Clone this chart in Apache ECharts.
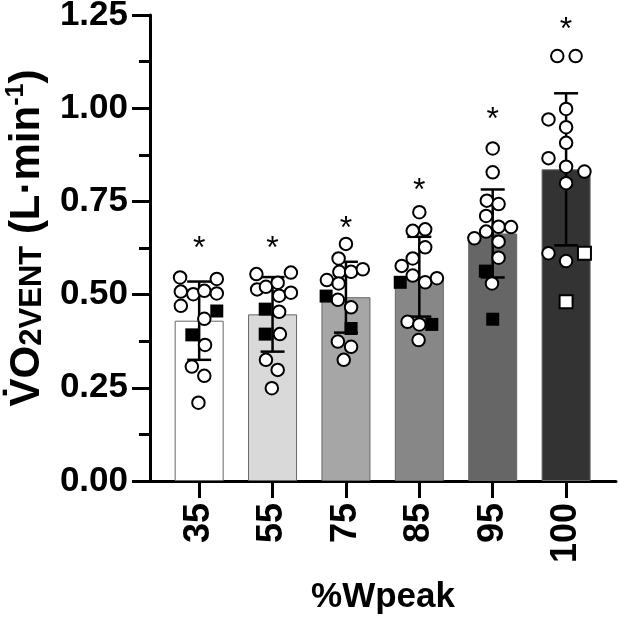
<!DOCTYPE html>
<html><head><meta charset="utf-8">
<script src="https://cdn.jsdelivr.net/npm/echarts@6/dist/echarts.min.js"></script>
<style>html,body{margin:0;padding:0;background:#fff}#c{width:621px;height:620px}</style>
</head><body><div id="c"></div>
<script>
// ---- data ----
const categories = ['35', '55', '75', '85', '95', '100'];
const means = [0.430, 0.447, 0.493, 0.548, 0.664, 0.836];
const sds = [0.105, 0.100, 0.095, 0.107, 0.118, 0.204];
const sigY = [0.64, 0.64, 0.695, 0.795, 0.988, 1.228];

// individual participants (circles) : values and horizontal jitter (category units)
const circleY = [
  [0.546,0.542,0.508,0.501,0.510,0.503,0.470,0.435,0.365,0.307,0.282,0.210],
  [0.555,0.559,0.514,0.521,0.532,0.497,0.505,0.454,0.394,0.325,0.298,0.249],
  [0.636,0.597,0.561,0.561,0.568,0.539,0.530,0.486,0.466,0.374,0.360,0.325],
  [0.721,0.671,0.675,0.627,0.597,0.577,0.551,0.533,0.544,0.427,0.420,0.378],
  [0.892,0.828,0.752,0.743,0.711,0.682,0.669,0.681,0.651,0.642,0.599,0.530],
  [1.140,1.140,0.998,0.970,0.949,0.907,0.866,0.843,0.830,0.799,0.611,0.590]
];
const circleDx = [
  [-0.26,0.24,-0.25,-0.08,0.07,0.24,-0.25,0.07,0.08,-0.10,0.07,-0.01],
  [-0.22,0.25,-0.21,-0.09,0.07,0.09,0.25,0.09,0.10,-0.09,0.07,-0.01],
  [0,-0.10,-0.09,0.07,0.23,-0.26,-0.10,-0.11,0.07,-0.11,0.07,-0.03],
  [0,-0.09,0.08,0.08,-0.09,-0.24,-0.09,0.08,0.24,-0.16,0,-0.01],
  [0,0,-0.08,0.08,-0.09,0.08,-0.09,0.25,-0.25,0.08,0.08,-0.01],
  [-0.12,0.13,0,-0.24,0,0,-0.24,0,0.25,0,-0.24,0]
];
// participants shown as squares
const squareY = [
  [0.456,0.392],[0.461,0.394],[0.496,0.409],[0.533,0.420],[0.563,0.434],[0.611,0.481]
];
const squareDx = [
  [0.24,-0.10],[-0.10,-0.10],[-0.27,0.07],[-0.26,0.17],[-0.10,0],[0.25,0]
];

// ---- styles ----
const barColors = ['#ffffff', '#d9d9d9', '#a6a6a6', '#878787', '#666666', '#333333'];
const squareFill = ['#000', '#000', '#000', '#000', '#000', '#fff'];
const FONT = '"Liberation Sans", Arial, sans-serif';

const barData = means.map((m, i) => ({value: [i, m], itemStyle: {color: barColors[i]}}));
const errData = means.map((m, i) => [i, m, sds[i]]);
const circleData = [];
circleY.forEach((arr, g) => arr.forEach((v, k) => circleData.push([g + circleDx[g][k], v])));
const squareData = [];
squareY.forEach((arr, g) => arr.forEach((v, k) => squareData.push({
  value: [g + squareDx[g][k], v],
  itemStyle: {color: squareFill[g], borderColor: '#000', borderWidth: squareFill[g] === '#fff' ? 2 : 0}
})));
const sigData = sigY.map((v, i) => [i, v]);

const chart = echarts.init(document.getElementById('c'), null, {renderer: 'canvas'});
chart.setOption({
  animation: false,
  backgroundColor: '#fff',
  grid: {left: 150, right: 5, top: 15, bottom: 139, outerBoundsMode: 'none', containLabel: false},
  xAxis: {
    type: 'value', min: -0.67, max: 5.68,
    splitLine: {show: false},
    axisLine: {show: true, lineStyle: {color: '#000', width: 3}},
    axisTick: {show: true, customValues: [0,1,2,3,4,5], length: 17, lineStyle: {color: '#000', width: 3}},
    axisLabel: {
      customValues: [0,1,2,3,4,5], rotate: 90, margin: 22,
      formatter: v => categories[Math.round(v)],
      color: '#000', fontFamily: FONT, fontWeight: 'bold', fontSize: 36
    },
    name: '%Wpeak', nameLocation: 'middle', nameGap: 99,
    nameTextStyle: {color: '#000', fontFamily: FONT, fontWeight: 'bold', fontSize: 35}
  },
  yAxis: {
    type: 'value', min: 0, max: 1.25, interval: 0.25,
    splitLine: {show: false},
    axisLine: {show: true, onZero: false, lineStyle: {color: '#000', width: 3}},
    axisTick: {show: true, length: 18, lineStyle: {color: '#000', width: 3}},
    minorTick: {show: true, splitNumber: 2, length: 11, lineStyle: {color: '#000', width: 3}},
    axisLabel: {
      margin: 22, color: '#000', fontFamily: FONT, fontWeight: 'bold', fontSize: 35,
      formatter: v => v.toFixed(2)
    },
    name: '{a|V\u0307O}{b|2VENT}{a| (L·min}{c|-1}{a|)}',
    nameLocation: 'middle', nameGap: 102,
    nameTextStyle: {
      color: '#000', fontFamily: FONT, fontWeight: 'bold', padding: [0, 0, 0, 20],
      rich: {
        a: {fontSize: 42, lineHeight: 44, fontWeight: 'bold', fontFamily: FONT, color: '#000', verticalAlign: 'bottom'},
        b: {fontSize: 31, lineHeight: 30, fontWeight: 'bold', fontFamily: FONT, color: '#000', verticalAlign: 'bottom'},
        c: {fontSize: 25, lineHeight: 25, fontWeight: 'bold', fontFamily: FONT, color: '#000', verticalAlign: 'top'}
      }
    }
  },
  series: [
    {
      type: 'bar', data: barData, barWidth: 49, z: 2,
      itemStyle: {borderColor: '#666', borderWidth: 1}
    },
    {
      type: 'custom', z: 3, data: errData,
      renderItem: function (params, api) {
        const x = api.value(0), m = api.value(1), s = api.value(2);
        const t = api.coord([x, m + s]), b = api.coord([x, m - s]);
        const half = 12;
        const st = {stroke: '#000', lineWidth: 2.5};
        return {type: 'group', children: [
          {type: 'line', shape: {x1: t[0], y1: t[1], x2: b[0], y2: b[1]}, style: st},
          {type: 'line', shape: {x1: t[0] - half, y1: t[1], x2: t[0] + half, y2: t[1]}, style: st},
          {type: 'line', shape: {x1: b[0] - half, y1: b[1], x2: b[0] + half, y2: b[1]}, style: st}
        ]};
      }
    },
    {
      type: 'scatter', z: 4, data: circleData, symbol: 'circle', symbolSize: 12.5,
      itemStyle: {color: '#fff', borderColor: '#000', borderWidth: 2, opacity: 1}
    },
    {
      type: 'scatter', z: 5, data: squareData, symbol: 'rect', symbolSize: 13,
      itemStyle: {opacity: 1}
    },
    {
      type: 'custom', z: 6, data: sigData,
      renderItem: function (params, api) {
        const p = api.coord([api.value(0), api.value(1)]);
        return {type: 'text', x: p[0], y: p[1] + 7, style: {
          text: '*', fill: '#000', align: 'center', verticalAlign: 'middle',
          font: 'normal 32px ' + FONT
        }};
      }
    }
  ]
});
</script></body></html>
